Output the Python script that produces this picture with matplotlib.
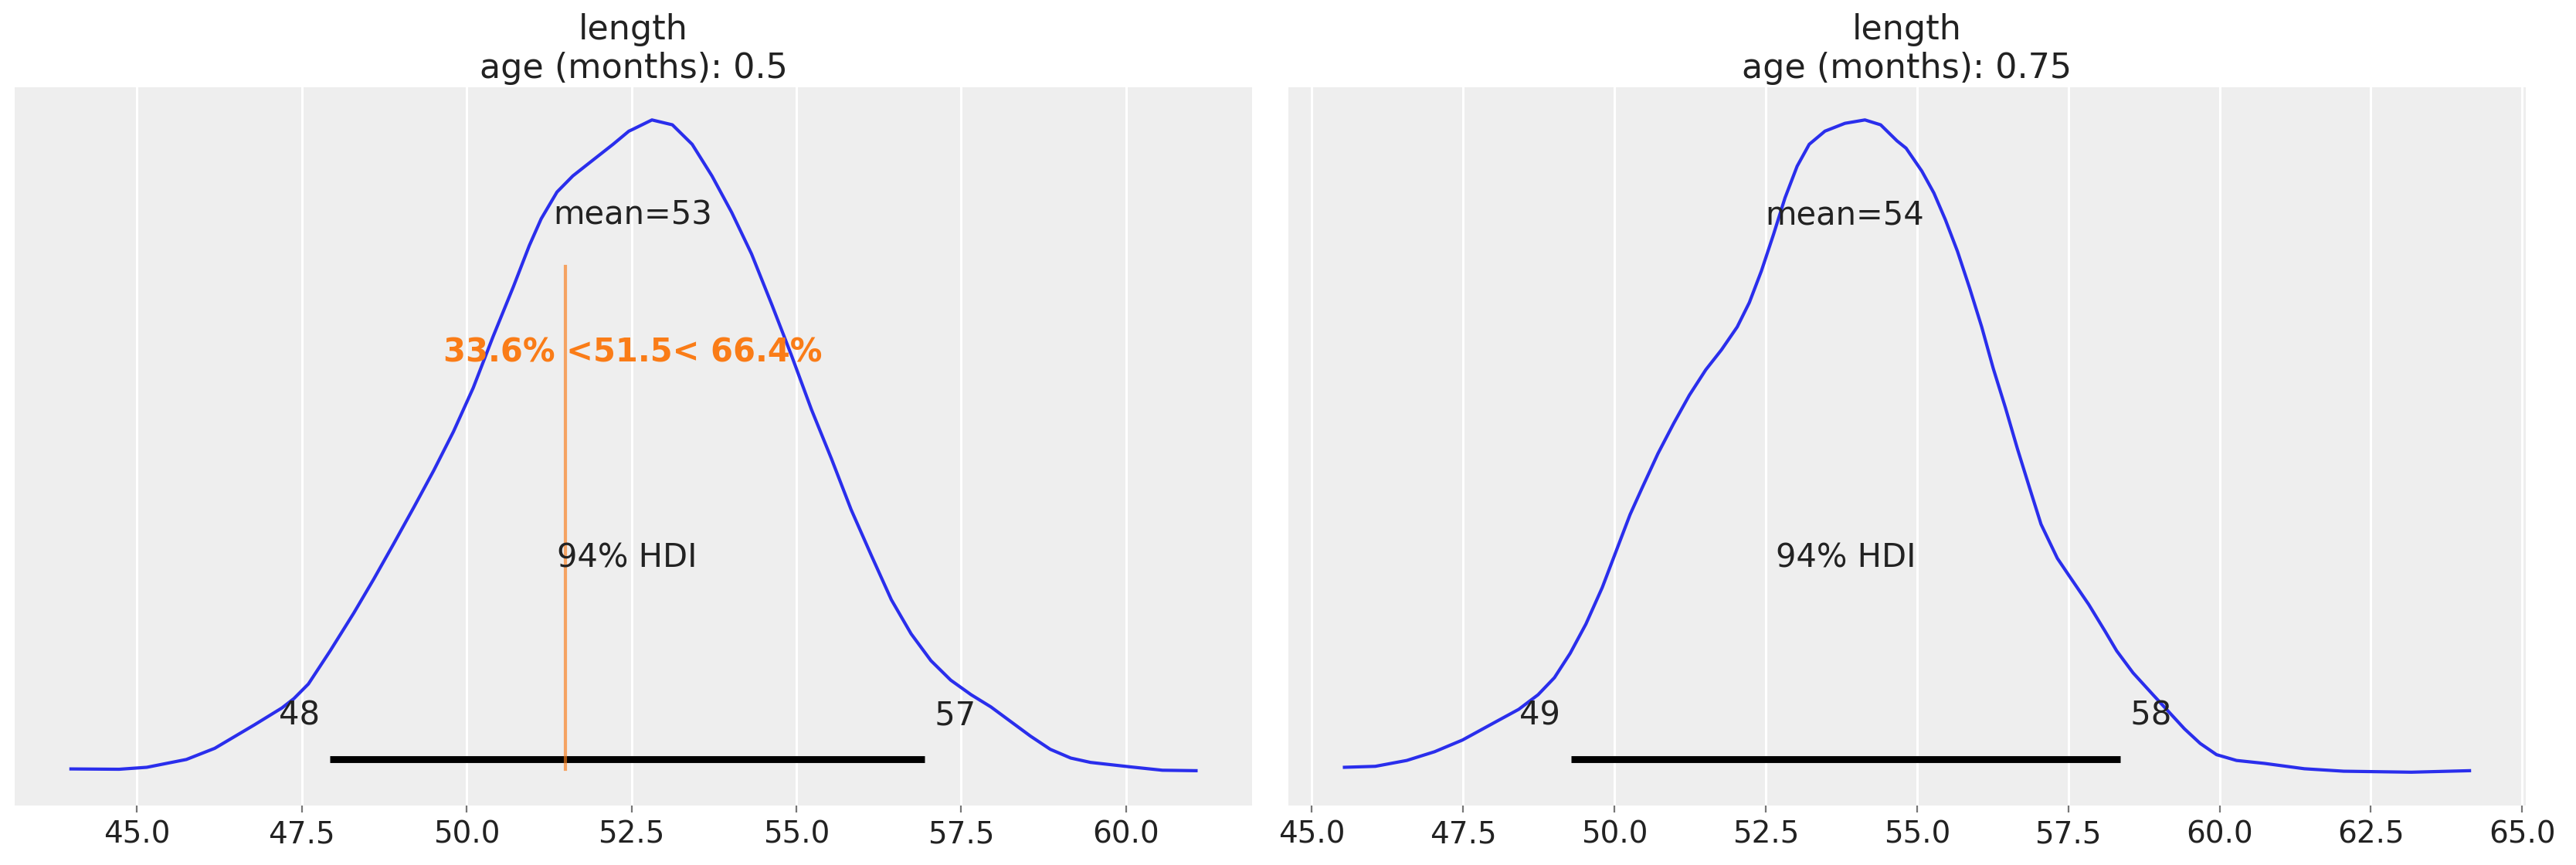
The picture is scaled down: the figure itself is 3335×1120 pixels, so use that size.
import numpy as np
import matplotlib
matplotlib.use("Agg")
import matplotlib.pyplot as plt

# ---------- data ----------
titles = ["length\nage (months): 0.5", "length\nage (months): 0.75"]

# KDE of posterior, age 0.5 (relative density)
x_05 = [44.00, 44.73, 45.15, 45.75, 46.18, 46.78, 47.20, 47.38, 47.60, 47.93,
        48.29, 48.59, 48.89, 49.20, 49.50, 49.80, 50.10, 50.40, 50.71, 50.95,
        51.13, 51.37, 51.61, 51.91, 52.22, 52.46, 52.51, 52.81, 53.12, 53.42,
        53.72, 54.02, 54.32, 54.63, 54.93, 55.23, 55.53, 55.83, 56.14, 56.44,
        56.74, 57.04, 57.34, 57.65, 57.95, 58.25, 58.55, 58.85, 59.16, 59.46,
        60.06, 60.55, 61.06]
d_05 = [0.006, 0.0055, 0.0085, 0.0205, 0.0376, 0.0735, 0.0996, 0.1138, 0.1362, 0.1870,
        0.2453, 0.2969, 0.3507, 0.4074, 0.4635, 0.5233, 0.5905, 0.6689, 0.7459, 0.8086,
        0.8497, 0.8908, 0.9155, 0.9394, 0.9640, 0.9842, 0.9865, 1.0014, 0.9939, 0.9640,
        0.9155, 0.8594, 0.7959, 0.7175, 0.6391, 0.5569, 0.4822, 0.4037, 0.3327, 0.2655,
        0.2132, 0.1721, 0.1422, 0.1198, 0.1011, 0.0787, 0.0563, 0.0361, 0.0227, 0.0160,
        0.0092, 0.0040, 0.0033]

# KDE of posterior, age 0.75
x_075 = [45.54, 46.05, 46.57, 47.03, 47.49, 48.02, 48.42, 48.74, 49.01, 49.27,
         49.53, 49.80, 50.03, 50.26, 50.46, 50.72, 50.98, 51.24, 51.51, 51.77,
         52.03, 52.23, 52.43, 52.63, 52.82, 53.02, 53.22, 53.48, 53.81, 54.14,
         54.40, 54.67, 54.82, 55.08, 55.28, 55.47, 55.67, 55.87, 56.07, 56.26,
         56.46, 56.66, 56.86, 57.05, 57.32, 57.51, 57.84, 58.11, 58.30, 58.57,
         58.90, 59.16, 59.42, 59.68, 59.95, 60.28, 60.74, 61.40, 62.05, 63.17,
         64.13]
d_075 = [0.0085, 0.0100, 0.0190, 0.0324, 0.0503, 0.0772, 0.0974, 0.1198, 0.1460, 0.1833,
         0.2282, 0.2842, 0.3402, 0.3962, 0.4373, 0.4896, 0.5359, 0.5793, 0.6181, 0.6488,
         0.6839, 0.7212, 0.7698, 0.8258, 0.8819, 0.9304, 0.9640, 0.9842, 0.9962, 1.0014,
         0.9939, 0.9693, 0.9581, 0.9230, 0.8893, 0.8483, 0.7997, 0.7436, 0.6839, 0.6204,
         0.5606, 0.4971, 0.4373, 0.3813, 0.3290, 0.3029, 0.2580, 0.2169, 0.1871, 0.1534,
         0.1198, 0.0937, 0.0675, 0.0451, 0.0279, 0.0190, 0.0145, 0.0063, 0.0025, 0.0010,
         0.0033]

means = [52.52, 53.81]
mean_labels = ["mean=53", "mean=54"]
hdi_lo = [47.93, 49.28]
hdi_hi = [56.94, 58.36]
hdi_lo_labels = ["48", "49"]
hdi_hi_labels = ["57", "58"]
hdi_prob_label = "94% HDI"

ref_val = 51.5
ref_less, ref_greater = 33.6, 66.4

# ---------- style ----------
BLUE = "#2a2eec"
ORANGE = "#fa7c17"
TXT = "#222222"
FS = 15

plt.rcParams["font.family"] = ["DejaVu Sans"]

fig, axes = plt.subplots(1, 2, figsize=(16.675, 5.6), dpi=200)
fig.subplots_adjust(left=0.0057, right=0.9805, bottom=0.0688, top=0.8991, wspace=0.029)

curves = [(x_05, d_05), (x_075, d_075)]
for i, ax in enumerate(axes):
    xs, ds = curves[i]
    ax.set_facecolor("#eeeeee")
    for sp in ax.spines.values():
        sp.set_visible(False)
    ax.grid(True, axis="x", color="white", lw=1.1)
    ax.set_axisbelow(True)
    ax.yaxis.set_visible(False)

    ax.plot(xs, ds, color=BLUE, lw=1.5)
    peak = max(ds)
    ax.set_ylim(-0.05 * peak, 1.05 * peak)
    ph = 1.05 * peak

    # HDI bar and labels
    ax.plot([hdi_lo[i], hdi_hi[i]], [ph * 0.02, ph * 0.02], color="k", lw=3.2,
            solid_capstyle="butt")
    ax.text(hdi_lo[i], ph * 0.07, hdi_lo_labels[i] + " ", size=FS, ha="right", color=TXT)
    ax.text(hdi_hi[i], ph * 0.07, " " + hdi_hi_labels[i], size=FS, ha="left", color=TXT)
    ax.text((hdi_lo[i] + hdi_hi[i]) / 2, ph * 0.3, hdi_prob_label, size=FS,
            ha="center", color=TXT)

    # point estimate
    ax.text(means[i], ph * 0.8, mean_labels[i], size=FS, ha="center", color=TXT)

    ax.tick_params(axis="x", labelsize=14, length=3.2, width=0.8, color="#777777",
                   labelcolor=TXT, direction="out", pad=3.5)
    ax.set_title(titles[i], fontsize=16, color=TXT, pad=4.5)

# reference value on first panel only
ax = axes[0]
ph = 1.05 * max(d_05)
ax.axvline(ref_val, ymin=0.05, ymax=0.75, lw=1.5, alpha=0.65, color=ORANGE)
ax.text(means[0], ph * 0.6, f"{ref_less:.1f}% <{ref_val:g}< {ref_greater:.1f}%",
        size=FS, weight="semibold", ha="center", color=ORANGE)

axes[0].set_xticks([45.0, 47.5, 50.0, 52.5, 55.0, 57.5, 60.0])
axes[1].set_xticks([45.0, 47.5, 50.0, 52.5, 55.0, 57.5, 60.0, 62.5, 65.0])
for ax in axes:
    ax.set_xticklabels([f"{t:.1f}" for t in ax.get_xticks()])

plt.savefig("out.png", dpi=200)
